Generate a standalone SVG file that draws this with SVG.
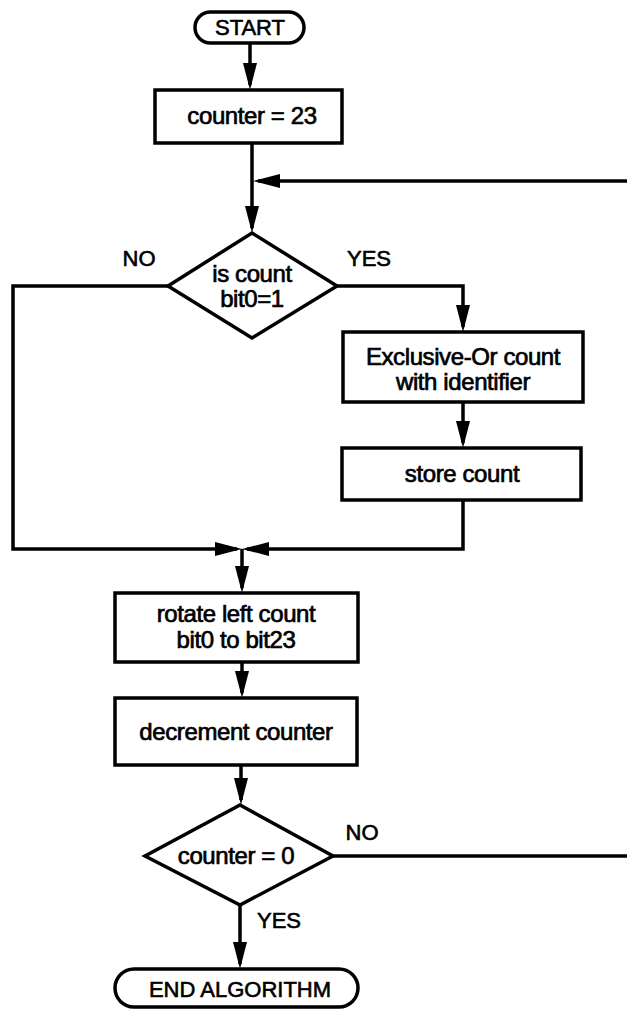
<svg xmlns="http://www.w3.org/2000/svg" width="627" height="1009" viewBox="0 0 627 1009">
<style>
.s{fill:#fff;stroke:#000;stroke-width:3.5;stroke-linejoin:miter}
.c{fill:none;stroke:#000;stroke-width:3.5;stroke-linejoin:miter}
.t{font-family:"Liberation Sans",Arial,sans-serif;font-size:24px;letter-spacing:-0.4px;fill:#000;stroke:#000;stroke-width:0.7;text-anchor:middle}
.l{font-family:"Liberation Sans",Arial,sans-serif;font-size:22px;fill:#000;stroke:#000;stroke-width:0.6;text-anchor:middle}
</style>
<defs>
<marker id="ah" markerUnits="userSpaceOnUse" markerWidth="28" markerHeight="15" refX="22" refY="7" orient="auto" overflow="visible">
<path d="M0,0 L27,7 L0,14 z" fill="#000"/>
</marker>
</defs>
<g id="connectors">
<path class="c" d="M250,43 V85" marker-end="url(#ah)"/>
<path class="c" d="M252,143 V228" marker-end="url(#ah)"/>
<path class="c" d="M627,181 H258" marker-end="url(#ah)"/>
<path class="c" d="M168,286 H13 V549 H237" marker-end="url(#ah)"/>
<path class="c" d="M337,286 H463 V327" marker-end="url(#ah)"/>
<path class="c" d="M463,402 V443" marker-end="url(#ah)"/>
<path class="c" d="M463,500 V549 H247" marker-end="url(#ah)"/>
<path class="c" d="M242,549 V588" marker-end="url(#ah)"/>
<path class="c" d="M242,662 V693" marker-end="url(#ah)"/>
<path class="c" d="M241,765 V800" marker-end="url(#ah)"/>
<path class="c" d="M333,856 H627"/>
<path class="c" d="M240,905 V964" marker-end="url(#ah)"/>
<text class="l" x="139" y="266">NO</text>
<text class="l" x="369" y="266">YES</text>
<text class="l" x="362" y="840">NO</text>
<text class="l" x="279" y="928">YES</text>
</g>
<g id="start">
<rect class="s" x="195" y="12" width="109" height="31" rx="15.5"/>
<text class="l" x="250" y="35">START</text>
</g>
<g id="init">
<rect class="s" x="155" y="90" width="187" height="53"/>
<text class="t" x="252" y="124">counter = 23</text>
</g>
<g id="test-bit">
<polygon class="s" points="252,233 337,286 252,338 168,286"/>
<text class="t" x="252" y="282">is count</text>
<text class="t" x="252" y="307">bit0=1</text>
</g>
<g id="xor">
<rect class="s" x="343" y="332" width="240" height="70"/>
<text class="t" x="463" y="365">Exclusive-Or count</text>
<text class="t" x="463" y="390">with identifier</text>
</g>
<g id="store">
<rect class="s" x="342" y="448" width="239" height="52"/>
<text class="t" x="462" y="482">store count</text>
</g>
<g id="rotate">
<rect class="s" x="115" y="593" width="243" height="69"/>
<text class="t" x="236" y="622">rotate left count</text>
<text class="t" x="236" y="648">bit0 to bit23</text>
</g>
<g id="decrement">
<rect class="s" x="115" y="698" width="242" height="67"/>
<text class="t" x="236" y="740">decrement counter</text>
</g>
<g id="test-counter">
<polygon class="s" points="240,805 333,856 240,905 145,856"/>
<text class="t" x="236" y="864">counter = 0</text>
</g>
<g id="end">
<rect class="s" x="115" y="969" width="243" height="38" rx="19"/>
<text class="l" x="240" y="997">END ALGORITHM</text>
</g>
</svg>
